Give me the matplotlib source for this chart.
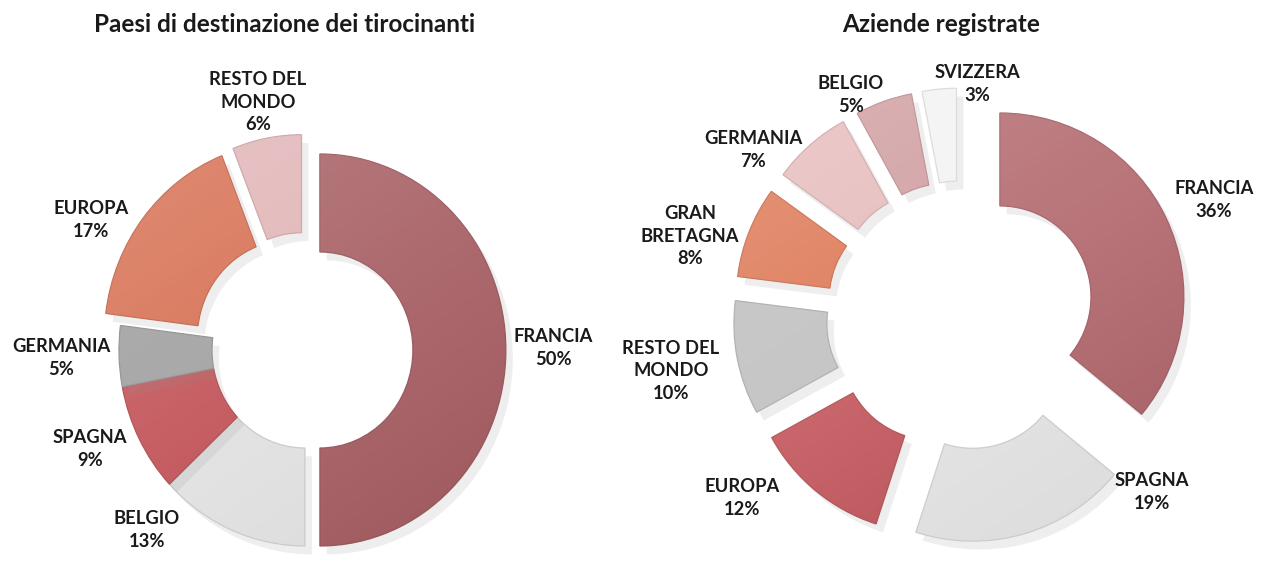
import matplotlib
matplotlib.use("Agg")
import numpy as np
import matplotlib.pyplot as plt
import matplotlib.patheffects as pe
import matplotlib.colors as mcolors

# ---------------- data ----------------
left_title = "Paesi di destinazione dei tirocinanti"
left_labels = ["FRANCIA", "BELGIO", "SPAGNA", "GERMANIA", "EUROPA", "RESTO DEL\nMONDO"]
left_values = [50, 13, 9, 5, 17, 6]

right_title = "Aziende registrate"
right_labels = ["FRANCIA", "SPAGNA", "EUROPA", "RESTO DEL\nMONDO", "GRAN\nBRETAGNA",
                "GERMANIA", "BELGIO", "SVIZZERA"]
right_values = [36, 19, 12, 10, 8, 7, 5, 3]

# ---------------- styles / layout ----------------
left_colors = ["#ad6a6e", "#e4e4e4", "#c65f64", "#a8a8a8", "#d9785c", "#e3b9bb"]
right_colors = ["#b87479", "#e6e6e6", "#c8666b", "#c6c6c6", "#e0805f",
                "#e8bfc0", "#d3a3a6", "#f4f4f4"]
left_explode = [0.08, 0, 0, 0, 0.1, 0.1]
right_explode = [0.236] * 8

# label block centres in pixels (x, y from top)
left_label_pos = [(553, 348), (147, 530), (90, 449), (61, 358), (91, 220), (258, 102)]
right_label_pos = [(1214, 200), (1152, 492), (742, 498), (671, 371), (690, 236),
                   (753, 150), (851, 95), (977, 84)]

W, H = 1266, 568
fig = plt.figure(figsize=(W / 100, H / 100), dpi=100)
fig.patch.set_facecolor("white")

FONT = ["Lato", "DejaVu Sans"]


def darker(c, f=0.85):
    r, g, b = mcolors.to_rgb(c)
    return (r * f, g * f, b * f)


def deep(c):
    # darker and more saturated version of a colour
    h, s, v = mcolors.rgb_to_hsv(mcolors.to_rgb(c))
    return mcolors.hsv_to_rgb((h, min(1.0, s * 1.8), v * 0.62))


N = 200
gx, gy = np.meshgrid(np.linspace(-1, 1, N), np.linspace(1, -1, N))
light = 0.6 * gy - 0.4 * gx


def shade_for(c):
    img = np.zeros((N, N, 4))
    pos = light > 0
    img[pos, :3] = 1.0
    img[pos, 3] = 0.18 * light[pos]
    d = deep(c)
    img[~pos, 0], img[~pos, 1], img[~pos, 2] = d
    img[~pos, 3] = 0.30 * (-light[~pos])
    return img


def donut(values, colors, explode, cx, cy, sx, sy, hole_w):
    xlim = (-1.6, 1.6)
    ylim = (-1.6, 1.6)
    left = cx + xlim[0] * sx
    bottom = (H - cy) + ylim[0] * sy
    w = (xlim[1] - xlim[0]) * sx
    h = (ylim[1] - ylim[0]) * sy
    ax = fig.add_axes([left / W, bottom / H, w / W, h / H])
    wedges, _ = ax.pie(values, colors=colors, explode=explode, startangle=90,
                       counterclock=False, radius=1.0,
                       wedgeprops=dict(width=hole_w, linewidth=0.9))
    for wd, c in zip(wedges, colors):
        wd.set_edgecolor(darker(c, 0.9))
        wd.set_path_effects([pe.SimplePatchShadow(offset=(5, -6), shadow_rgbFace="#909090",
                                                  alpha=0.15), pe.Normal()])
        sat = mcolors.rgb_to_hsv(mcolors.to_rgb(c))[1]
        img = shade_for(c)
        if sat < 0.1:
            img[..., 3] *= 0.45
        im = ax.imshow(img, extent=(-1.25, 1.25, -1.25, 1.25), zorder=3,
                       interpolation="bilinear")
        im.set_clip_path(wd)
    ax.set_aspect("auto")
    ax.set_xlim(xlim)
    ax.set_ylim(ylim)
    ax.axis("off")
    return ax


donut(left_values, left_colors, left_explode, 305, 350, 186, 196, 0.5)
donut(right_values, right_colors, right_explode, 960.6, 315.5, 184, 184, 0.505)


def labels(names, values, positions):
    fs = 13.2
    for name, v, (x, y) in zip(names, values, positions):
        fig.text(x / W, 1 - y / H, f"{name}\n{v}%", ha="center", va="center",
                 fontsize=fs, fontweight="bold", family=FONT, color="#1a1a1a",
                 linespacing=1.42, multialignment="center")


labels(left_labels, left_values, left_label_pos)
labels(right_labels, right_values, right_label_pos)

fig.text(285 / W, 1 - 25 / H, left_title, ha="center", va="center", fontsize=17.5,
         fontweight="bold", family=FONT, color="#1a1a1a")
fig.text(941 / W, 1 - 25 / H, right_title, ha="center", va="center", fontsize=17.5,
         fontweight="bold", family=FONT, color="#1a1a1a")

fig.savefig("out.png", dpi=100, facecolor="white")
